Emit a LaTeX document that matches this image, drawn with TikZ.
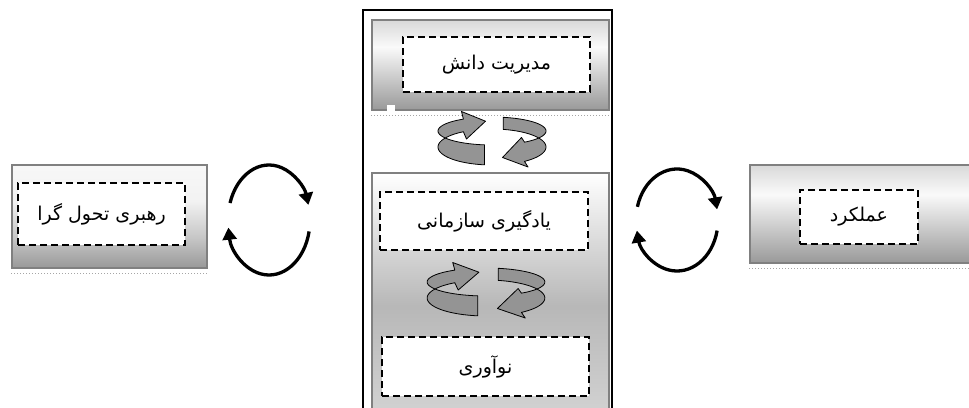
\documentclass[tikz,border=0pt]{standalone}
\usepackage{fontspec}
\newfontfamily\fa[Script=Arabic]{DejaVu Sans}
\TeXXeTstate=1
\usetikzlibrary{arrows.meta,calc}
\definecolor{bordergray}{gray}{0.5}
\definecolor{ribbongray}{gray}{0.58}
\pgfdeclareverticalshading{leftshade}{100bp}{color(0bp)=(black!40); color(25bp)=(black!40); color(40bp)=(black!22); color(57.5bp)=(black!5); color(75bp)=(black!3); color(100bp)=(black!3)}
\pgfdeclareverticalshading{sideshade}{100bp}{color(0bp)=(black!40); color(25bp)=(black!40); color(60bp)=(black!2); color(75bp)=(black!15); color(100bp)=(black!15)}
\pgfdeclareverticalshading{longshade}{100bp}{color(0bp)=(black!18); color(25bp)=(black!18); color(47bp)=(black!28); color(75bp)=(white); color(100bp)=(white)}
\tikzset{
  x=1pt, y=-1pt,
  graybox/.style={draw=bordergray, line width=2pt, shade, inner sep=0pt},
  dashbox/.style={draw=black, fill=white, line width=1.8pt, dash pattern=on 7pt off 4pt, inner sep=0pt, font=\fa\fontsize{19}{23}\selectfont},
  dotline/.style={draw=black!35, line width=1pt, dash pattern=on 1pt off 2pt},
  cyclearrow/.style={line width=3.3pt, -{Triangle[length=12pt,width=14pt]}},
  ribbon/.style={fill=ribbongray, draw=black, line width=0.8pt, line join=round}
}
\newcommand\ribbonpair{%
  \filldraw[ribbon] plot[domain=98:238,samples=40] ({54*cos(\x)},{16*sin(\x)+8+2*sin(\x)})
     -- (-25.5,0) -- (-6.5,-17.8) -- (-30.5,-27.5)
     -- plot[domain=238:98,samples=40] ({54*cos(\x)},{16*sin(\x)-8-2*sin(\x)}) -- cycle;
  \filldraw[ribbon] plot[domain=282:413,samples=40] ({54*cos(\x)},{16*sin(\x)-8-2*sin(\x)})
     -- (29.5,-1.5) -- (10.5,18.5) -- (36,28)
     -- plot[domain=413:282,samples=40] ({54*cos(\x)},{16*sin(\x)+8+2*sin(\x)}) -- cycle;
}
\begin{document}
\begin{tikzpicture}
\useasboundingbox (0,0) rectangle (969,407);
\fill[white] (0,0) rectangle (969,407);

% central frame
\node[draw=black, line width=1.5pt, minimum width=249pt, minimum height=400pt, inner sep=0pt] (frame) at (487.5,210) {};

% boxes
\node[graybox, shading=sideshade, minimum width=237pt, minimum height=90pt] (kbox) at (490.5,65) {};
\node[graybox, shading=longshade, minimum width=237pt, minimum height=237pt] (lbox) at (490.5,291.5) {};
\node[graybox, shading=leftshade, minimum width=195pt, minimum height=103pt] (bl) at (109.5,216.5) {};
\node[graybox, shading=sideshade, minimum width=225pt, minimum height=98pt] (br) at (862.5,214) {};

% dotted shadows
\draw[dotline] ([yshift=-4pt]kbox.south west) -- ([yshift=-4pt]kbox.south east);
\draw[dotline] ([yshift=-4pt]bl.south west) -- ([yshift=-4pt]bl.south east);
\draw[dotline] ([yshift=-4pt]br.south west) -- ([yshift=-4pt]br.south east);
\fill[white] (387,105) rectangle (395,113);

% dashed text boxes
\node[dashbox, minimum width=187pt, minimum height=55pt] (km) at (496.5,64.5) {\beginR مدیریت دانش\endR};
\node[dashbox, minimum width=208pt, minimum height=58pt] (ol) at (484,221) {\beginR یادگیری سازمانی\endR};
\node[dashbox, minimum width=207pt, minimum height=59pt] (inn) at (485.5,366.5) {\beginR نوآوری\endR};
\node[dashbox, minimum width=167pt, minimum height=62pt] (tl) at (101.5,214) {\beginR رهبری تحول گرا\endR};
\node[dashbox, minimum width=118pt, minimum height=54pt] (perf) at (859,217) {\beginR عملکرد\endR};

% 3D rotating arrows
\begin{scope}[shift={(492,139)}]
\ribbonpair
\end{scope}
\begin{scope}[shift={(486,290)}, xscale=1.09]
\ribbonpair
\end{scope}

% black cycle arrows
\coordinate (cl) at (269,220);
\coordinate (cr) at (677,220);
\draw[cyclearrow] ($(cl)+(-162:41 and 55)$) arc[start angle=-162, end angle=-16, x radius=41, y radius=55];
\draw[cyclearrow] ($(cl)+(12:41 and 55)$) arc[start angle=12, end angle=172, x radius=41, y radius=55];
\draw[cyclearrow] ($(cr)+(-165:41 and 51)$) arc[start angle=-165, end angle=-12, x radius=41, y radius=51];
\draw[cyclearrow] ($(cr)+(12:41 and 51)$) arc[start angle=12, end angle=168, x radius=41, y radius=51];
\end{tikzpicture}
\end{document}
